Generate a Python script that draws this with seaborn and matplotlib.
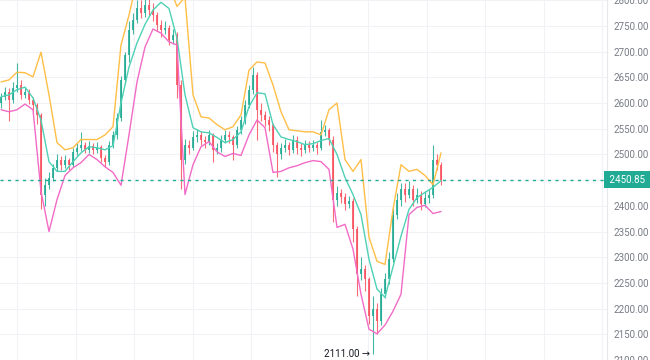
import numpy as np
import pandas as pd
import matplotlib
matplotlib.use("Agg")
import matplotlib.pyplot as plt
import matplotlib.transforms as mtrans
import seaborn as sns

# ---------------- data ----------------
open_first = 2600
close = [2612, 2622, 2606, 2629, 2635, 2616, 2622, 2606, 2597, 2577,
         2422, 2441, 2455, 2474, 2490, 2480, 2490, 2480, 2505, 2513,
         2519, 2509, 2517, 2509, 2515, 2494, 2486, 2519, 2538, 2571,
         2645, 2693, 2742, 2761, 2784, 2775, 2790, 2781, 2771, 2752,
         2742, 2746, 2722, 2732, 2635, 2490, 2519, 2513, 2533, 2538,
         2529, 2525, 2538, 2509, 2513, 2529, 2538, 2533, 2519, 2548,
         2567, 2597, 2626, 2655, 2587, 2577, 2567, 2558, 2519, 2500,
         2513, 2519, 2509, 2529, 2513, 2509, 2519, 2513, 2519, 2513,
         2544, 2548, 2529, 2412, 2425, 2418, 2403, 2410, 2354, 2267,
         2277, 2257, 2185, 2200, 2175, 2228, 2257, 2296, 2383, 2412,
         2432, 2422, 2432, 2412, 2422, 2403, 2416, 2422, 2490, 2480,
         2450.85]
high = [2620, 2632, 2630, 2640, 2678, 2645, 2632, 2628, 2612, 2600,
        2580, 2455, 2465, 2482, 2500, 2497, 2498, 2494, 2512, 2522,
        2544, 2525, 2526, 2522, 2524, 2518, 2498, 2526, 2546, 2580,
        2652, 2700, 2760, 2775, 2800, 2800, 2810, 2805, 2795, 2778,
        2762, 2760, 2752, 2745, 2738, 2645, 2530, 2528, 2545, 2550,
        2545, 2536, 2548, 2542, 2522, 2538, 2548, 2545, 2538, 2555,
        2575, 2605, 2635, 2670, 2660, 2600, 2585, 2575, 2562, 2525,
        2522, 2530, 2525, 2538, 2535, 2522, 2528, 2526, 2528, 2524,
        2567, 2558, 2552, 2535, 2438, 2432, 2425, 2420, 2415, 2360,
        2300, 2285, 2262, 2225, 2210, 2240, 2270, 2310, 2395, 2425,
        2445, 2445, 2448, 2440, 2435, 2428, 2428, 2432, 2519, 2500,
        2485]
low = [2590, 2605, 2565, 2600, 2622, 2608, 2610, 2598, 2585, 2560,
       2393, 2400, 2432, 2448, 2468, 2470, 2474, 2470, 2476, 2498,
       2506, 2502, 2503, 2500, 2502, 2485, 2476, 2480, 2512, 2530,
       2565, 2638, 2680, 2735, 2755, 2765, 2768, 2770, 2760, 2740,
       2728, 2735, 2712, 2715, 2610, 2432, 2482, 2500, 2508, 2525,
       2518, 2512, 2518, 2486, 2500, 2505, 2522, 2522, 2490, 2512,
       2540, 2560, 2590, 2618, 2528, 2565, 2555, 2545, 2505, 2457,
       2492, 2505, 2498, 2502, 2500, 2496, 2502, 2505, 2506, 2500,
       2508, 2535, 2518, 2368, 2400, 2405, 2392, 2395, 2330, 2225,
       2255, 2235, 2170, 2111, 2150, 2168, 2220, 2248, 2290, 2375,
       2400, 2408, 2415, 2400, 2405, 2392, 2398, 2405, 2415, 2470,
       2440]

band_step = 2  # bands are read every second candle
upper = [2641, 2645, 2660, 2659, 2651, 2699, 2616, 2523, 2509, 2513,
         2529, 2529, 2529, 2538, 2554, 2713, 2771, 2839, 2858, 2858,
         2848, 2829, 2788, 2806, 2616, 2573, 2571, 2558, 2548, 2554,
         2577, 2664, 2680, 2678, 2635, 2583, 2548, 2546, 2544, 2544,
         2538, 2587, 2600, 2490, 2467, 2490, 2339, 2292, 2286, 2393,
         2480, 2467, 2471, 2459, 2441, 2503]
middle = [2612, 2616, 2626, 2631, 2610, 2567, 2486, 2467, 2467, 2486,
          2503, 2515, 2513, 2509, 2517, 2600, 2670, 2717, 2753, 2781,
          2796, 2784, 2726, 2616, 2552, 2544, 2542, 2533, 2523, 2529,
          2544, 2593, 2620, 2618, 2558, 2534, 2529, 2525, 2519, 2521,
          2527, 2531, 2500, 2455, 2422, 2383, 2296, 2238, 2222, 2281,
          2341, 2393, 2416, 2426, 2436, 2449]
lower = [2587, 2583, 2587, 2598, 2587, 2428, 2350, 2412, 2459, 2474,
         2484, 2500, 2490, 2476, 2465, 2440, 2538, 2641, 2709, 2744,
         2736, 2719, 2713, 2422, 2480, 2515, 2525, 2505, 2496, 2502,
         2498, 2538, 2567, 2552, 2465, 2467, 2474, 2478, 2484, 2488,
         2486, 2471, 2358, 2364, 2316, 2228, 2160, 2151, 2168, 2195,
         2228, 2383, 2397, 2401, 2385, 2389]

last_price = 2450.85
low_mark_price = 2111.00
low_mark_index = 93
price_ticks = list(range(2100, 2801, 50))

# ---------------- styling ----------------
UP = "#22ab94"
DOWN = "#f7525f"
YELLOW = "#ffbf47"
TEAL = "#4fd1b5"
PINK = "#f26bc6"
GRID = "#f0f2f6"
TXT = "#787b86"

sns.set_theme(style="white")
plt.rcParams["font.family"] = ["Roboto", "DejaVu Sans"]

fig = plt.figure(figsize=(6.5, 3.6), dpi=100)
ax = fig.add_axes([0, 0, 607 / 650, 1])

n = len(close)
idx = np.arange(n)
opens = np.array([open_first] + close[:-1], dtype=float)
closes = np.array(close, dtype=float)
up = closes >= opens
colors = np.where(up, UP, DOWN)

ax.vlines(idx, low, high, colors=colors, linewidth=0.8, alpha=0.85, zorder=2)
heights = closes - opens
heights = np.where(np.abs(heights) < 1.5, np.sign(heights + 1e-9) * 1.5, heights)
ax.bar(idx, heights, bottom=opens, width=0.6, color=colors, alpha=0.85,
       linewidth=0, zorder=2)

bands = pd.DataFrame({
    "x": np.arange(len(upper)) * band_step,
    "upper": upper, "middle": middle, "lower": lower,
})
sns.lineplot(data=bands, x="x", y="upper", color=YELLOW, linewidth=1.0, ax=ax, zorder=3)
sns.lineplot(data=bands, x="x", y="middle", color=TEAL, linewidth=1.0, ax=ax, zorder=3)
sns.lineplot(data=bands, x="x", y="lower", color=PINK, linewidth=1.0, ax=ax, zorder=3)

# last price line and label
ax.axhline(last_price, color=UP, linewidth=1.0, linestyle=(0, (2.2, 3.2)), zorder=4)
trans = mtrans.blended_transform_factory(ax.transAxes, ax.transData)
ax.text(1.0, last_price, " " + f"{last_price:.2f}" + " ", transform=trans,
        ha="left", va="center", fontsize=7, color="white", clip_on=False,
        bbox=dict(boxstyle="square,pad=0.35", fc=UP, ec="none"), zorder=6)

# lowest price marker
ax.text(low_mark_index - 0.8, low_mark_price, f"{low_mark_price:.2f} \u2192",
        ha="right", va="center", fontsize=7, color="#131722", zorder=5)

# axes
ax.set_xlim(-0.25, 151.5)
ax.set_ylim(2100.5, 2800.5)
ax.set_yticks(price_ticks)
# the 2450 label sits under the last-price badge, as in the reference
ax.set_yticklabels(["" if abs(t - last_price) < 10 else f"{t:.2f}" for t in price_ticks])
vgrid = np.arange(4, 151, 14.625)
ax.set_xticks(vgrid)
ax.tick_params(axis="x", labelbottom=False, length=0)
ax.tick_params(axis="y", labelleft=False, labelright=True, left=False, right=False,
               length=0, pad=4.5, labelsize=7, labelcolor=TXT)
ax.grid(True, color=GRID, linewidth=0.8, zorder=0)
ax.set_xlabel("")
ax.set_ylabel("")
for side in ["top", "left", "bottom"]:
    ax.spines[side].set_visible(False)
ax.spines["right"].set_color("#e6e8ee")
ax.spines["right"].set_linewidth(0.8)

fig.savefig("out.png", dpi=100)
